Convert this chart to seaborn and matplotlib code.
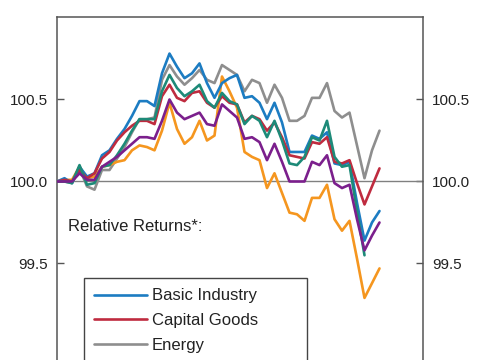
import numpy as np
import pandas as pd
import seaborn as sns
import matplotlib.pyplot as plt

# Valores (índice relativo, base 100)
periodos = list(range(44))

basic_industry = [100.00, 100.02, 99.99, 100.09, 100.03, 100.05, 100.16, 100.19, 100.26, 100.32,
                  100.40, 100.49, 100.49, 100.46, 100.66, 100.78, 100.70, 100.63, 100.66, 100.72,
                  100.60, 100.51, 100.60, 100.63, 100.65, 100.51, 100.52, 100.48, 100.38, 100.48,
                  100.36, 100.18, 100.18, 100.18, 100.28, 100.26, 100.30, 100.11, 100.10, 100.12,
                  99.87, 99.64, 99.75, 99.82]
capital_goods = [100.00, 100.01, 100.00, 100.07, 100.02, 100.05, 100.14, 100.18, 100.25, 100.30,
                 100.34, 100.37, 100.37, 100.35, 100.52, 100.59, 100.51, 100.49, 100.54, 100.55,
                 100.48, 100.45, 100.52, 100.48, 100.47, 100.36, 100.40, 100.38, 100.31, 100.36,
                 100.27, 100.16, 100.15, 100.14, 100.24, 100.23, 100.27, 100.12, 100.11, 100.13,
                 99.99, 99.86, 99.97, 100.08]
energy = [100.00, 100.00, 99.99, 100.08, 99.97, 99.95, 100.07, 100.07, 100.14, 100.21,
          100.30, 100.38, 100.38, 100.39, 100.62, 100.71, 100.64, 100.59, 100.63, 100.68,
          100.62, 100.60, 100.71, 100.68, 100.65, 100.55, 100.62, 100.60, 100.48, 100.59,
          100.51, 100.37, 100.37, 100.40, 100.51, 100.51, 100.60, 100.43, 100.39, 100.42,
          100.22, 100.02, 100.19, 100.31]
serie_4 = [100.00, 100.00, 99.99, 100.10, 99.98, 99.99, 100.09, 100.10, 100.16, 100.23,
           100.31, 100.38, 100.38, 100.38, 100.55, 100.65, 100.57, 100.52, 100.55, 100.59,
           100.49, 100.45, 100.54, 100.49, 100.47, 100.35, 100.40, 100.37, 100.27, 100.37,
           100.25, 100.11, 100.10, 100.15, 100.27, 100.25, 100.37, 100.15, 100.09, 100.10,
           99.82, 99.55, np.nan, np.nan]
serie_5 = [100.00, 100.00, 100.00, 100.05, 100.01, 100.01, 100.09, 100.12, 100.15, 100.19,
           100.23, 100.27, 100.27, 100.26, 100.37, 100.50, 100.42, 100.38, 100.40, 100.42,
           100.35, 100.34, 100.47, 100.43, 100.39, 100.26, 100.27, 100.24, 100.13, 100.23,
           100.12, 100.00, 100.00, 100.00, 100.12, 100.10, 100.16, 99.99, 99.96, 99.98,
           99.77, 99.58, 99.67, 99.75]
serie_6 = [100.00, 100.01, 100.01, 100.09, 100.02, 100.03, 100.09, 100.10, 100.12, 100.13,
           100.19, 100.22, 100.21, 100.19, 100.31, 100.48, 100.32, 100.23, 100.27, 100.37,
           100.25, 100.28, 100.64, 100.55, 100.45, 100.18, 100.15, 100.13, 99.96, 100.05,
           99.93, 99.81, 99.80, 99.76, 99.90, 99.90, 99.98, 99.77, 99.70, 99.76,
           99.53, 99.29, 99.38, 99.47]

nombres = ["Basic Industry", "Capital Goods", "Energy", "Serie 4", "Serie 5", "Serie 6"]
valores = [basic_industry, capital_goods, energy, serie_4, serie_5, serie_6]
colores = ["#1c7cc2", "#bf2b3f", "#8e8e8e", "#1d8a78", "#7b1f8c", "#f5961f"]
orden_z = [4, 5, 2, 6, 7, 3]
etiquetas_yticks = [99.5, 100.0, 100.5]

sns.set_theme(style="white")
plt.rcParams['font.family'] = ['Liberation Sans', 'DejaVu Sans']

fig = plt.figure(figsize=(4.85, 3.6), dpi=100)
ax = fig.add_axes([57 / 485, -0.1419, 366 / 485, 1.0933])

handles = []
for nombre, vals, color, z in zip(nombres, valores, colores, orden_z):
    sns.lineplot(x=periodos, y=vals, color=color, linewidth=1.9, ax=ax, zorder=z)
    handles.append(plt.Line2D([], [], color=color, linewidth=1.9, label=nombre))

ax.axhline(100.0, color="#808080", linewidth=1.0, zorder=1)

ax.set_xlim(0, 48.8)
ax.set_ylim(98.6, 101.0)
ax.set_xticks([])
ax.set_yticks(etiquetas_yticks)
ax.set_yticklabels([f"{v:.1f}" for v in etiquetas_yticks])
ax.tick_params(axis="y", direction="in", length=5, width=1, color="#555555",
               left=True, right=True, labelleft=True, labelright=True,
               labelsize=11, labelcolor="#222222", pad=6.5)
for lado in ["left", "right", "top", "bottom"]:
    ax.spines[lado].set_color("#555555")
    ax.spines[lado].set_linewidth(1.1)
ax.set_xlabel("")
ax.set_ylabel("")

ax.text(1.5, 99.725, "Relative Returns*:", fontsize=12, color="#222222", va="center", ha="left")

leg = ax.legend(handles=handles[:3], loc="upper left",
                bbox_to_anchor=(84 / 485, 0.0, 223 / 485, 1 - 278 / 360),
                bbox_transform=fig.transFigure, mode="expand", borderaxespad=0,
                fontsize=12, handlelength=3.15, handletextpad=0.3, borderpad=0.62,
                labelspacing=0.58, frameon=True, fancybox=False, framealpha=1)
leg.get_frame().set_edgecolor("#444444")
leg.get_frame().set_linewidth(1.0)
for t in leg.get_texts():
    t.set_color("#222222")

fig.savefig("out.png", dpi=100)
